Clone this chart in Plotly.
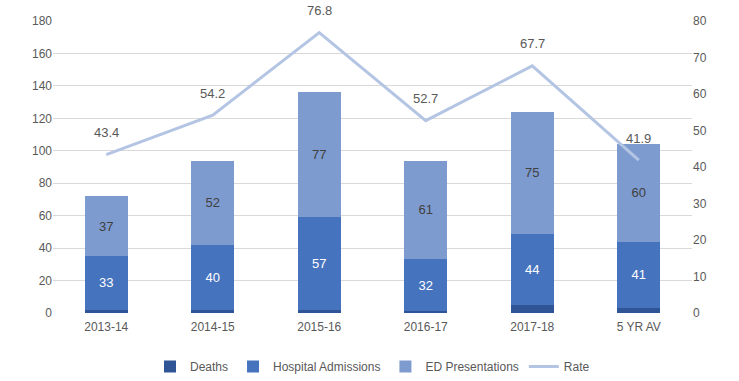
import plotly.graph_objects as go

categories = ["2013-14", "2014-15", "2015-16", "2016-17", "2017-18", "5 YR AV"]
deaths = [2, 2, 2, 1, 5, 3]
hospital_admissions = [33, 40, 57, 32, 44, 41]
ed_presentations = [37, 52, 77, 61, 75, 60]
rate = [43.4, 54.2, 76.8, 52.7, 67.7, 41.9]

left_ticks = [0, 20, 40, 60, 80, 100, 120, 140, 160, 180]
right_ticks = [0, 10, 20, 30, 40, 50, 60, 70, 80]

FONT = "Liberation Sans, Arial, sans-serif"
GREY = "#595959"

fig = go.Figure()

fig.add_bar(
    x=categories, y=deaths, name="Deaths",
    marker=dict(color="#2f5597", line=dict(width=0)),
    hoverinfo="skip",
)
fig.add_bar(
    x=categories, y=hospital_admissions, name="Hospital Admissions",
    marker=dict(color="#4673be", line=dict(width=0)),
    text=[str(v) for v in hospital_admissions],
    textposition="inside", insidetextanchor="middle", textangle=0,
    constraintext="none",
    textfont=dict(color="white", size=13, family=FONT),
)
fig.add_bar(
    x=categories, y=ed_presentations, name="ED Presentations",
    marker=dict(color="#7e9bcf", line=dict(width=0)),
    text=[str(v) for v in ed_presentations],
    textposition="inside", insidetextanchor="middle", textangle=0,
    constraintext="none",
    textfont=dict(color="#404040", size=13, family=FONT),
)
fig.add_scatter(
    x=categories, y=rate, name="Rate", yaxis="y2", mode="lines",
    line=dict(color="#b4c5e4", width=3),
)

# Rate value labels sitting above each point of the line
for c, v in zip(categories, rate):
    fig.add_annotation(
        x=c, y=v, xref="x", yref="y2", text=f"{v:.1f}",
        showarrow=False, yshift=22,
        font=dict(color=GREY, size=13, family=FONT),
    )

fig.update_layout(
    barmode="stack",
    bargap=0.6,
    width=739, height=381,
    margin=dict(l=53, r=47, t=21, b=68, autoexpand=False),
    paper_bgcolor="white", plot_bgcolor="white",
    font=dict(family=FONT, size=12, color=GREY),
    showlegend=True,
    legend=dict(
        orientation="h", x=0.5, xanchor="center",
        yref="container", y=0.0, yanchor="bottom",
        font=dict(size=12, color=GREY), traceorder="normal",
        itemwidth=30,
    ),
    xaxis=dict(
        showgrid=False, showline=False, ticks="",
        ticklabelstandoff=5,
        tickfont=dict(size=12, color=GREY),
    ),
    yaxis=dict(
        range=[0, 180], tickvals=left_ticks, showgrid=True,
        gridcolor="#d9d9d9", gridwidth=1, zeroline=False, showline=False,
        ticks="", tickfont=dict(size=12, color=GREY),
    ),
    yaxis2=dict(
        range=[0, 80], tickvals=right_ticks, overlaying="y", side="right",
        showgrid=False, zeroline=False, showline=False, ticks="",
        tickfont=dict(size=12, color=GREY),
    ),
)

fig.write_html("out.html")
